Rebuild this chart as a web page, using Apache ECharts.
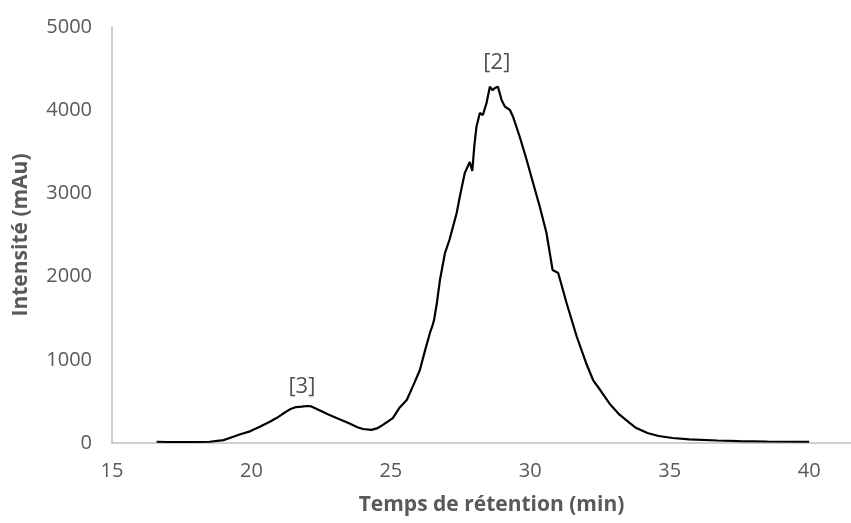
<!DOCTYPE html>
<html>
<head>
<meta charset="utf-8">
<script src="https://cdn.jsdelivr.net/npm/echarts@6/dist/echarts.min.js"></script>
<style>
  html, body { margin: 0; padding: 0; background: #fff; }
  #chart { width: 851px; height: 523px; }
</style>
</head>
<body>
<div id="chart"></div>
<script>
// temps de rétention (min) et intensité (mAu)
var times = [16.6, 17.0, 17.5, 18.0, 18.5, 19.0, 19.3, 19.6, 19.95, 20.3, 20.66, 20.9, 21.1, 21.38, 21.6, 21.8, 22.0, 22.15, 22.4, 22.8,
    23.2, 23.5, 23.8, 24.0, 24.3, 24.5, 24.7, 24.9, 25.07, 25.3, 25.57, 25.8, 26.04, 26.2, 26.4, 26.5, 26.55, 26.65, 26.76, 26.94,
    27.1, 27.36, 27.47, 27.65, 27.83, 27.92, 27.99, 28.07, 28.19, 28.3, 28.43, 28.55, 28.65, 28.73, 28.84, 28.97, 29.09, 29.27, 29.38, 29.62,
    29.87, 30.1, 30.34, 30.58, 30.8, 31.0, 31.3, 31.67, 32.0, 32.25, 32.5, 32.85, 33.2, 33.57, 33.8, 34.2, 34.6, 35.1, 35.7, 36.7,
    37.5, 38.5, 40.0];
var intensity = [15, 12, 12, 12, 15, 35, 70, 105, 140, 195, 256, 300, 345, 405, 432, 438, 445, 440, 400, 336,
    280, 236, 190, 168, 158, 175, 215, 260, 300, 420, 517, 690, 877, 1080, 1322, 1420, 1480, 1683, 1959, 2283,
    2440, 2764, 2957, 3245, 3377, 3270, 3561, 3802, 3966, 3942, 4087, 4282, 4240, 4267, 4282, 4123, 4042, 4002, 3922, 3681,
    3401, 3125, 2840, 2524, 2079, 2043, 1683, 1274, 962, 757, 640, 470, 340, 240, 180, 120, 84, 60, 44, 30,
    22, 18, 15];

// étiquettes des pics
var peakLabels = ['[3]', '[2]'];
var peakTimes = [21.81, 28.8];
var peakValues = [673, 4567];

var chart = echarts.init(document.getElementById('chart'));

var lineData = [];
for (var i = 0; i < times.length; i++) {
    lineData.push([times[i], intensity[i]]);
}
var peakData = [];
for (var j = 0; j < peakLabels.length; j++) {
    peakData.push({ value: [peakTimes[j], peakValues[j]], name: peakLabels[j] });
}

var axisText = { fontFamily: 'Open Sans', fontSize: 20, color: '#595959' };

var option = {
    animation: false,
    backgroundColor: '#fff',
    grid: { left: 112, right: 0, top: 27, bottom: 80 },
    xAxis: {
        type: 'value',
        min: 15,
        max: 41.5,
        interval: 5,
        name: 'Temps de rétention (min)',
        nameLocation: 'middle',
        nameGap: 52,
        nameTextStyle: { fontFamily: 'Open Sans', fontSize: 21, fontWeight: 'bold', color: '#595959', padding: [0, 0, 0, 20] },
        axisLine: { show: true, lineStyle: { color: '#bfbfbf', width: 1.5 } },
        axisTick: { show: false },
        splitLine: { show: false },
        axisLabel: Object.assign({ margin: 18, showMaxLabel: false }, axisText)
    },
    yAxis: {
        type: 'value',
        min: 0,
        max: 5000,
        interval: 1000,
        name: 'Intensité (mAu)',
        nameLocation: 'middle',
        nameGap: 80,
        nameTextStyle: { fontFamily: 'Open Sans', fontSize: 21, fontWeight: 'bold', color: '#595959' },
        axisLine: { show: true, lineStyle: { color: '#bfbfbf', width: 1.5 } },
        axisTick: { show: false },
        splitLine: { show: false },
        axisLabel: Object.assign({ margin: 20, formatter: function (v) { return String(v); } }, axisText)
    },
    series: [
        {
            name: 'Intensité',
            type: 'line',
            data: lineData,
            showSymbol: false,
            lineStyle: { color: '#000', width: 2.2 },
            z: 3
        },
        {
            name: 'Pics',
            type: 'scatter',
            data: peakData,
            symbolSize: 1,
            itemStyle: { color: 'rgba(0,0,0,0)' },
            label: {
                show: true,
                position: 'inside',
                formatter: '{b}',
                fontFamily: 'Open Sans',
                fontSize: 22,
                color: '#262626'
            }
        }
    ]
};

chart.setOption(option);
</script>
</body>
</html>
